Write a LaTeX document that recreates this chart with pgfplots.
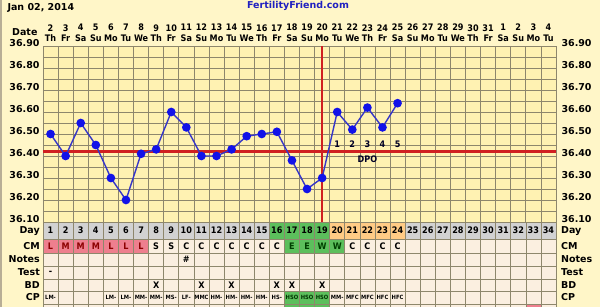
\documentclass[border=0pt]{standalone}
\usepackage{fontspec}
\setmainfont{DejaVu Sans}
\newfontfamily\cond{DejaVu Sans Condensed}
\usepackage{pgfplots}
\pgfplotsset{compat=1.18}
\definecolor{bgY}{HTML}{FFF6C8}
\definecolor{plotY}{HTML}{FFF2B2}
\definecolor{gridC}{HTML}{8E876C}
\definecolor{cellC}{HTML}{FBEFE0}
\definecolor{dayG}{HTML}{D2D2D2}
\definecolor{grnC}{HTML}{5CBF5C}
\definecolor{orgC}{HTML}{FFCB85}
\definecolor{pinkC}{HTML}{EE7F8E}
\definecolor{tempB}{HTML}{3636C8}
\definecolor{mkB}{HTML}{1212E8}
\definecolor{redL}{HTML}{D02020}
\definecolor{ffBlue}{HTML}{2020C0}
\definecolor{frameC}{HTML}{B8AE96}
\newcommand{\lab}{\bfseries\fontsize{9.5}{11}\selectfont}
\newcommand{\clab}{\cond\bfseries\fontsize{9}{10}\selectfont}
\newcommand{\dlab}{\cond\bfseries\fontsize{9}{10.8}\selectfont}
\newcommand{\cpf}{\cond\bfseries\fontsize{5.8}{6.5}\selectfont}
\begin{document}
\begin{tikzpicture}[x=1pt,y=1pt]
\path[use as bounding box, fill=bgY] (0,0) rectangle (600,307);
\draw[frameC, line width=2pt] (1,0) -- (1,307);
\node[anchor=west, font=\lab] at (4,299) {Jan 02, 2014};
\node[font=\lab, text=ffBlue] at (298,301) {FertilityFriend.com};
\node[anchor=east, font=\lab] at (41,275) {Date};
% main chart
\begin{axis}[at={(43pt,85pt)}, anchor=south west, scale only axis,
  width=513pt, height=176pt, xmin=0.5, xmax=34.5, ymin=36.1, ymax=36.9,
  axis background/.style={fill=plotY}, clip=false,
  axis line style={draw=gridC, line width=0.8pt},
  xtick={0.5,1.5,2.5,3.5,4.5,5.5,6.5,7.5,8.5,9.5,10.5,11.5,12.5,13.5,14.5,15.5,16.5,17.5,18.5,19.5,20.5,21.5,22.5,23.5,24.5,25.5,26.5,27.5,28.5,29.5,30.5,31.5,32.5,33.5,34.5},
  xticklabels={},
  ytick={36.1,36.2,36.3,36.4,36.5,36.6,36.7,36.8,36.9},
  minor ytick={36.15,36.25,36.35,36.45,36.55,36.65,36.75,36.85},
  grid=both, grid style={draw=gridC, line width=0.7pt},
  minor grid style={draw=gridC, line width=0.7pt},
  major tick length=0pt, minor tick length=0pt,
  /pgf/number format/assume math mode=true,
  yticklabel style={font=\lab, yshift=2.5pt, /pgf/number format/.cd, fixed, fixed zerofill, precision=2}]
\addplot[redL, line width=2.6pt] coordinates {(0.5,36.42) (34.5,36.42)};
\addplot[redL, line width=1.8pt] coordinates {(19,36.1) (19,36.9)};
\addplot[tempB, line width=1.4pt, mark=*, mark size=3.6pt, mark options={fill=mkB, draw=mkB}] coordinates {
(1,36.50) (2,36.40) (3,36.55) (4,36.45) (5,36.30) (6,36.20) (7,36.41) (8,36.43)
(9,36.60) (10,36.53) (11,36.40) (12,36.40) (13,36.43) (14,36.49) (15,36.50) (16,36.51)
(17,36.38) (18,36.25) (19,36.30) (20,36.60) (21,36.52) (22,36.62) (23,36.53) (24,36.64)};
\addplot[draw=none, mark=none, nodes near coords, point meta=explicit symbolic,
  nodes near coords align=center,
  every node near coord/.append style={font=\clab, text=black!85!blue, anchor=center}]
  coordinates {(20,36.455)[1] (21,36.455)[2] (22,36.455)[3] (23,36.455)[4] (24,36.455)[5] (22,36.385)[DPO]};
\end{axis}
% overlay axis for top and right labels
\begin{axis}[at={(43pt,85pt)}, anchor=south west, scale only axis,
  width=513pt, height=176pt, xmin=0.5, xmax=34.5, ymin=36.1, ymax=36.9,
  axis line style={draw=none}, major tick length=0pt,
  xtick={1,2,3,4,5,6,7,8,9,10,11,12,13,14,15,16,17,18,19,20,21,22,23,24,25,26,27,28,29,30,31,32,33,34},
  xticklabels={{2\\Th},{3\\Fr},{4\\Sa},{5\\Su},{6\\Mo},{7\\Tu},{8\\We},{9\\Th},{10\\Fr},{11\\Sa},{12\\Su},{13\\Mo},{14\\Tu},{15\\We},{16\\Th},{17\\Fr},{18\\Sa},{19\\Su},{20\\Mo},{21\\Tu},{22\\We},{23\\Th},{24\\Fr},{25\\Sa},{26\\Su},{27\\Mo},{28\\Tu},{29\\We},{30\\Th},{31\\Fr},{1\\Sa},{2\\Su},{3\\Mo},{4\\Tu}},
  xticklabel pos=upper, yticklabel pos=right,
  xticklabel style={align=center, font=\dlab, inner sep=1pt, yshift=3pt},
  ytick={36.1,36.2,36.3,36.4,36.5,36.6,36.7,36.8,36.9},
  /pgf/number format/assume math mode=true,
  yticklabel style={font=\lab, yshift=2.5pt, xshift=2pt, /pgf/number format/.cd, fixed, fixed zerofill, precision=2}]
\addplot[draw=none, mark=none] coordinates {(1,36.5)};
\end{axis}
% table axis
\begin{axis}[at={(43pt,-10pt)}, anchor=south west, scale only axis,
  width=513pt, height=95pt, xmin=0.5, xmax=34.5, ymin=-10, ymax=85,
  axis on top, clip=false,
  axis line style={draw=gridC, line width=0.7pt},
  xtick={0.5,1.5,2.5,3.5,4.5,5.5,6.5,7.5,8.5,9.5,10.5,11.5,12.5,13.5,14.5,15.5,16.5,17.5,18.5,19.5,20.5,21.5,22.5,23.5,24.5,25.5,26.5,27.5,28.5,29.5,30.5,31.5,32.5,33.5,34.5},
  ytick={-10,3,16,28,41,54,68,85},
  xticklabels={}, yticklabels={},
  grid=major, grid style={draw=gridC, line width=0.6pt},
  major tick length=0pt]
\fill[cellC] (axis cs:0.5,-10) rectangle (axis cs:34.5,68);
\fill[dayG] (axis cs:0.5,68) rectangle (axis cs:34.5,85);
\fill[grnC] (axis cs:15.5,68) rectangle (axis cs:19.5,85);
\fill[orgC] (axis cs:19.5,68) rectangle (axis cs:24.5,85);
\fill[pinkC] (axis cs:0.5,54) rectangle (axis cs:7.5,68);
\fill[grnC] (axis cs:16.5,54) rectangle (axis cs:20.5,68);
\fill[grnC] (axis cs:16.5,3) rectangle (axis cs:19.5,16);
\fill[grnC] (axis cs:16.5,-10) rectangle (axis cs:19.5,3);
\fill[pinkC] (axis cs:32.5,-10) rectangle (axis cs:33.5,3);
% day numbers
\addplot[draw=none, mark=none, nodes near coords, point meta=explicit symbolic,
  nodes near coords align=center,
  every node near coord/.append style={font=\clab, text=black, anchor=center}]
  coordinates {(1,76.5)[1] (2,76.5)[2] (3,76.5)[3] (4,76.5)[4] (5,76.5)[5] (6,76.5)[6] (7,76.5)[7] (8,76.5)[8] (9,76.5)[9] (10,76.5)[10] (11,76.5)[11] (12,76.5)[12] (13,76.5)[13] (14,76.5)[14] (15,76.5)[15] (16,76.5)[16] (17,76.5)[17] (18,76.5)[18] (19,76.5)[19] (20,76.5)[20] (21,76.5)[21] (22,76.5)[22] (23,76.5)[23] (24,76.5)[24] (25,76.5)[25] (26,76.5)[26] (27,76.5)[27] (28,76.5)[28] (29,76.5)[29] (30,76.5)[30] (31,76.5)[31] (32,76.5)[32] (33,76.5)[33] (34,76.5)[34]};
% CM on pink
\addplot[draw=none, mark=none, nodes near coords, point meta=explicit symbolic,
  nodes near coords align=center,
  every node near coord/.append style={font=\clab, text=red!55!black, anchor=center}]
  coordinates {(1,61)[L] (2,61)[M] (3,61)[M] (4,61)[M] (5,61)[L] (6,61)[L] (7,61)[L]};
\addplot[draw=none, mark=none, nodes near coords, point meta=explicit symbolic,
  nodes near coords align=center,
  every node near coord/.append style={font=\clab, text=black, anchor=center}]
  coordinates {(8,61)[S] (9,61)[S] (10,61)[C] (11,61)[C] (12,61)[C] (13,61)[C] (14,61)[C] (15,61)[C] (16,61)[C] (21,61)[C] (22,61)[C] (23,61)[C] (24,61)[C]
  (10,47.5)[\#] (1,34.5)[-]
  (8,22)[X] (11,22)[X] (13,22)[X] (16,22)[X] (17,22)[X] (19,22)[X]};
\addplot[draw=none, mark=none, nodes near coords, point meta=explicit symbolic,
  nodes near coords align=center,
  every node near coord/.append style={font=\clab, text=green!25!black, anchor=center}]
  coordinates {(17,61)[E] (18,61)[E] (19,61)[W] (20,61)[W]};
% CP
\addplot[draw=none, mark=none, nodes near coords, point meta=explicit symbolic,
  nodes near coords align=center,
  every node near coord/.append style={font=\cpf, text=black, anchor=center}]
  coordinates {(1,9.5)[LM-] (5,9.5)[LM-] (6,9.5)[LM-] (7,9.5)[MM-] (8,9.5)[MM-] (9,9.5)[MS-] (10,9.5)[LF-] (11,9.5)[MMC] (12,9.5)[HM-] (13,9.5)[HM-] (14,9.5)[HM-] (15,9.5)[HM-] (16,9.5)[HS-] (20,9.5)[MM-] (21,9.5)[MFC] (22,9.5)[MFC] (23,9.5)[HFC] (24,9.5)[HFC]};
\addplot[draw=none, mark=none, nodes near coords, point meta=explicit symbolic,
  nodes near coords align=center,
  every node near coord/.append style={font=\cpf, text=green!20!black, anchor=center}]
  coordinates {(17,9.5)[HSO] (18,9.5)[HSO] (19,9.5)[HSO]};
\end{axis}
% row labels
\foreach \yy/\lbl in {76/Day,61/CM,47.5/Notes,34.5/Test,22/BD,9.5/CP}{
  \node[anchor=east, font=\lab, inner sep=1pt] at (41,\yy) {\lbl};
  \node[anchor=west, font=\lab, inner sep=1pt] at (560,\yy) {\lbl};
}
\end{tikzpicture}
\end{document}
